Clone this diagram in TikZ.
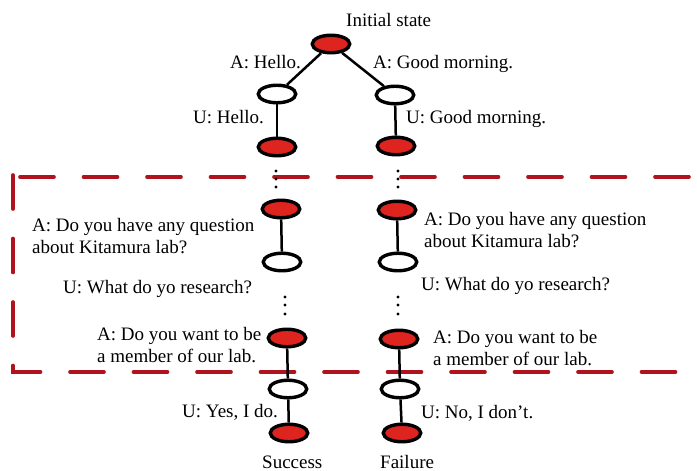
\documentclass[tikz,border=0pt]{standalone}
\usepackage{fontspec}
\setmainfont{Liberation Serif}
\usetikzlibrary{shapes.geometric}
\definecolor{statered}{RGB}{221,36,31}
\definecolor{framered}{RGB}{175,20,30}
\begin{document}
\begin{tikzpicture}[x=1pt,y=-1pt,
  state/.style={ellipse,draw=black,line width=3.4pt,inner sep=0pt,
    minimum width=37.5pt,minimum height=17.5pt},
  sys/.style={state,fill=statered},
  usr/.style={state,fill=white},
  link/.style={line width=2.5pt,black},
  say/.style={anchor=base west,inner sep=0pt,align=left,
    font=\fontsize{19}{21.5}\selectfont},
  frame/.style={line width=3.6pt,framered,line cap=round,
    dash pattern=on 34pt off 29.5pt},
  dot/.style={circle,fill=black,inner sep=0pt,minimum size=3.4pt}]
\useasboundingbox (0,0) rectangle (697,471);

% dashed frame around the middle of the dialogue
\draw[frame] (13,175) -- (13,372) -- (697,372);
\draw[frame] (20,177) -- (697,177);

% states of the left branch
\node[sys] (root) at (331,44) {};
\node[usr] (l1) at (277,94) {};
\node[sys] (l2) at (277,147) {};
\node[sys] (l3) at (281,209) {};
\node[usr] (l4) at (282,262) {};
\node[sys] (l5) at (287,338) {};
\node[usr] (l6) at (288,389) {};
\node[sys] (l7) at (289,433) {};

% states of the right branch
\node[usr] (r1) at (395,95) {};
\node[sys] (r2) at (396,146) {};
\node[sys] (r3) at (397,210) {};
\node[usr] (r4) at (398,262) {};
\node[sys] (r5) at (399,339) {};
\node[usr] (r6) at (400,389) {};
\node[sys] (r7) at (402,433) {};

% transitions
\draw[link] (root) -- (l1);
\draw[link] (root) -- (r1);
\draw[link] (l1) -- (l2);
\draw[link] (r1) -- (r2);
\draw[link] (l3) -- (l4);
\draw[link] (r3) -- (r4);
\draw[link] (l5) -- (l6);
\draw[link] (r5) -- (r6);
\draw[link] (l6) -- (l7);
\draw[link] (r6) -- (r7);

% omitted turns
\foreach \y [count=\i] in {171,179,187} {
  \node[dot] (la\i) at (276,\y) {};
  \node[dot] (ra\i) at (398,\y) {};
}
\foreach \y [count=\i] in {297,305,314} {
  \node[dot] (lb\i) at (285,\y) {};
  \node[dot] (rb\i) at (398,\y) {};
}

% utterances (two-line labels are placed by their last baseline)
\node[say] (tinit) at (346,27) {Initial state};
\node[say] (ta1) at (230,68) {A: Hello.};
\node[say] (ta2) at (373,68) {A: Good morning.};
\node[say] (tu1) at (193,123) {U: Hello.};
\node[say] (tu2) at (406,123) {U: Good morning.};
\node[say] (tq1) at (32,253) {A: Do you have any question\\about Kitamura lab?};
\node[say] (tq2) at (424,247) {A: Do you have any question\\about Kitamura lab?};
\node[say] (tr1) at (63,293) {U: What do yo research?};
\node[say] (tr2) at (421,290) {U: What do yo research?};
\node[say] (tm1) at (97,362) {A: Do you want to be\\a member of our lab.};
\node[say] (tm2) at (433,365) {A: Do you want to be\\a member of our lab.};
\node[say] (ty) at (182,417) {U: Yes, I do.};
\node[say] (tn) at (421,418) {U: No, I don’t.};
\node[say] (ts) at (262,468) {Success};
\node[say] (tf) at (380,468) {Failure};
\end{tikzpicture}
\end{document}
